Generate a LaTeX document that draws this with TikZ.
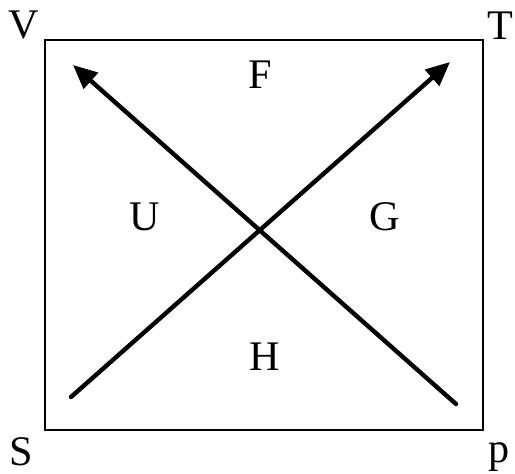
\documentclass[tikz,border=0pt]{standalone}
\usepackage{fontspec}
\setmainfont{Liberation Serif}
\usetikzlibrary{arrows.meta}
\tikzset{
    lbl/.style={inner sep=0pt, font=\fontsize{24}{28}\selectfont},
    frame/.style={line width=1.1pt},
    diag/.style={line width=2.5pt, -{Triangle[length=0.48cm,width=0.42cm]}}
}
\begin{document}
\begin{tikzpicture}
        \useasboundingbox (0,0) rectangle (10.3,9.46);
        % corners of the square
        \coordinate (sw) at (0.9,0.86);
        \coordinate (ne) at (9.66,8.66);
        \draw[frame] (sw) rectangle (ne);

        % corner labels
        \node[lbl, anchor=base] (V) at (0.48,8.68) {V};
        \node[lbl, anchor=base] (T) at (10.0,8.66) {T};
        \node[lbl, anchor=base] (S) at (0.42,0.16) {S};
        \node[lbl, anchor=base] (p) at (9.98,0.22) {p};

        % side labels
        \node[lbl] (F) at (5.2,7.96) {F};
        \node[lbl] (U) at (2.9,5.12) {U};
        \node[lbl] (G) at (7.7,5.12) {G};
        \node[lbl] (H) at (5.3,2.32) {H};

        % diagonals
        \coordinate (a1) at (1.42,1.52);
        \coordinate (b1) at (9.0,8.22);
        \coordinate (a2) at (9.12,1.38);
        \coordinate (b2) at (1.46,8.16);
        \draw[diag, line cap=round] (a1) -- (b1);
        \draw[diag, line cap=round] (a2) -- (b2);
    \end{tikzpicture}
\end{document}
